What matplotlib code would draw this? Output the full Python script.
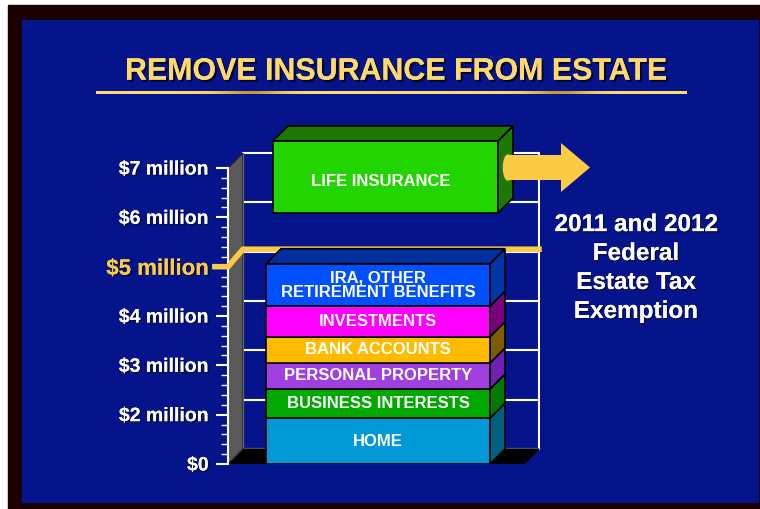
import numpy as np
import matplotlib
matplotlib.use('Agg')
import matplotlib.pyplot as plt
import matplotlib.patheffects as pe
from matplotlib.patches import Polygon, Rectangle, FancyArrow, Ellipse, PathPatch
from matplotlib.textpath import TextPath
from matplotlib.font_manager import FontProperties
from matplotlib.transforms import Affine2D

#! data
tick_values = [0, 1, 2, 3, 4, 5, 6]
tick_labels = ['$0', '$2 million', '$3 million', '$4 million', '$5 million', '$6 million', '$7 million']
exempt_tick = 4   # "$5 million"

seg_labels = ['HOME', 'BUSINESS INTERESTS', 'PERSONAL PROPERTY', 'BANK ACCOUNTS',
              'INVESTMENTS', 'IRA, OTHER\nRETIREMENT BENEFITS']
seg_values = [0.93, 0.59, 0.53, 0.53, 0.62, 0.86]
seg_front = ['#0099D6', '#00A800', '#A040E0', '#FFBB00', '#FF00FF', '#0050FF']
seg_side = ['#006080', '#007A00', '#7020B0', '#7F5C00', '#7A0080', '#0038A8']
seg_top = '#0030A0'

ins_label = 'LIFE INSURANCE'
ins_bottom = 5.09
ins_value = 1.46

title = 'REMOVE INSURANCE FROM ESTATE'
side_text = '2011 and 2012\nFederal\nEstate Tax\nExemption'

#! colours / layout
BG = '#06148C'
BORDER = '#1C0000'
YEL = '#FCCB46'
W, H = 760, 509
PXU = 49.33            # pixels per axis unit
AX_L, AX_R, AX_B = 228, 540, 464
YMAX = 7.0
DEPTH = 15             # 3d depth in px

fig = plt.figure(figsize=(W / 100, H / 100), dpi=100)
fig.patch.set_facecolor('white')

# frame: dark border and blue panel (pixel coords)
frame = fig.add_axes([0, 0, 1, 1])
frame.axis('off')
frame.add_patch(Rectangle((8, 5), W - 8, H - 5, color=BORDER))
frame.add_patch(Rectangle((22, 20), W - 24, 482, color=BG))

shadow = [pe.withSimplePatchShadow(offset=(1.5, -1.5), shadow_rgbFace='black', alpha=0.7), pe.Normal()]
soft = [pe.withSimplePatchShadow(offset=(1, -1), shadow_rgbFace='black', alpha=0.5), pe.Normal()]

# title, squeezed to look like a narrow face
tp = TextPath((0, 0), title, size=30, prop=FontProperties(family='Liberation Sans', weight='bold'))
bb = tp.get_extents()
sx = (666 - 127) / bb.width
sy = 22 / bb.height
tr = Affine2D().translate(-bb.x0, -bb.y0).scale(sx, -sy).translate(127, 80)
frame.add_patch(PathPatch(tr.transform_path(tp), facecolor='#FFD96A', edgecolor='none',
                          path_effects=shadow))

# gradient underline
xs = np.linspace(96, 687, 300)
dark = np.exp(-((xs - 250) / 30) ** 2) + np.exp(-((xs - 560) / 30) ** 2)
light = np.array([1.0, 0.86, 0.45])
brown = np.array([0.62, 0.42, 0.08])
grad = light[None, :] * (1 - 0.6 * dark[:, None]) + brown[None, :] * 0.6 * dark[:, None]
frame.imshow(grad[None, :, :], extent=(96, 687, 94.3, 92), aspect='auto',
             interpolation='bilinear', zorder=3)
frame.set_xlim(0, W)
frame.set_ylim(H, 0)

frame.text(636, 268, side_text, ha='center', va='center', color='white', fontsize=17.5,
           fontweight='bold', family='Liberation Sans', linespacing=1.33, path_effects=soft)

# chart axes
ax_h = YMAX * PXU
ax = fig.add_axes([AX_L / W, (H - AX_B) / H, (AX_R - AX_L) / W, ax_h / H])
ax.set_xlim(0, 1)
ax.set_ylim(0, YMAX)
ax.patch.set_alpha(0)
ddx = DEPTH / (AX_R - AX_L)
ddy = DEPTH / PXU
xr = (539 - AX_L) / (AX_R - AX_L)

for s in ['top', 'right', 'bottom']:
    ax.spines[s].set_visible(False)
ax.spines['left'].set_color('white')
ax.spines['left'].set_linewidth(1.5)
ax.spines['left'].set_bounds(tick_values[0], tick_values[-1])
ax.set_xticks([])
ax.set_yticks(tick_values)
ax.set_yticks(np.arange(tick_values[0], tick_values[-1] + 0.01, 0.2), minor=True)
ax.set_yticklabels(tick_labels)
ax.tick_params(axis='y', which='major', length=9, width=1.5, color='white', direction='out', pad=5)
ax.tick_params(axis='y', which='minor', length=5, width=1, color='white', direction='out')
for i, lab in enumerate(ax.get_yticklabels()):
    lab.set_fontweight('bold')
    lab.set_family('Liberation Sans')
    if i == exempt_tick:
        lab.set_color(YEL)
        lab.set_fontsize(16)
    else:
        lab.set_color('white')
        lab.set_fontsize(14)
    lab.set_path_effects(soft)

# back plane with grid
for v in tick_values:
    ax.plot([ddx, xr], [v + ddy, v + ddy], color='white', lw=1.5, zorder=1)
ax.plot([xr, xr], [ddy, tick_values[-1] + ddy], color='white', lw=1.5, zorder=1)
ax.plot([ddx, ddx], [ddy, tick_values[-1] + ddy], color='white', lw=1.5, zorder=1)
# floor and side wall
ax.add_patch(Polygon([(0, 0), (ddx, ddy), (xr, ddy), (xr - ddx, 0)], closed=True,
                     facecolor='black', edgecolor='black', zorder=2))
ax.add_patch(Polygon([(0, 0), (0, tick_values[-1]), (ddx, tick_values[-1] + ddy), (ddx, ddy)],
                     closed=True, facecolor='#5A5A5A', edgecolor='#222222', lw=1, zorder=2))

# exemption line
ex = tick_values[exempt_tick]
ax.plot([-0.042, 0, ddx, xr], [ex, ex, ex + ddy + 0.05, ex + ddy + 0.05], color=YEL, lw=4,
        solid_joinstyle='miter', clip_on=False, zorder=3)


def box3d(x0, w, bottoms, heights, fronts, sides, top):
    bars = ax.bar(x0, heights, width=w, bottom=bottoms, align='edge', color=fronts,
                  edgecolor='black', lw=1.2, zorder=5)
    x1 = x0 + w
    for b, h, sc in zip(bottoms, heights, sides):
        ax.add_patch(Polygon([(x1, b), (x1 + ddx, b + ddy), (x1 + ddx, b + h + ddy), (x1, b + h)],
                             closed=True, facecolor=sc, edgecolor='black', lw=1.2, zorder=4))
    yt = bottoms[-1] + heights[-1]
    ax.add_patch(Polygon([(x0, yt), (x0 + ddx, yt + ddy), (x1 + ddx, yt + ddy), (x1, yt)],
                         closed=True, facecolor=top, edgecolor='black', lw=1.2, zorder=4))
    return bars


# stacked estate bar
bx0 = (266 - AX_L) / (AX_R - AX_L)
bw = (490 - 266) / (AX_R - AX_L)
bottoms = np.concatenate([[0], np.cumsum(seg_values)[:-1]])
box3d(bx0, bw, bottoms, seg_values, seg_front, seg_side, seg_top)
for b, v, lab in zip(bottoms, seg_values, seg_labels):
    ax.text(bx0 + bw / 2, b + v / 2, lab, ha='center', va='center', color='white', fontsize=12,
            fontweight='bold', family='Liberation Sans', linespacing=0.95, zorder=6)

# life insurance box
ix0 = (273 - AX_L) / (AX_R - AX_L)
iw = (498 - 273) / (AX_R - AX_L)
box3d(ix0, iw, [ins_bottom], [ins_value], ['#22D400'], ['#1C7A00'], '#1E7800')
ax.text(ix0 + iw / 2 - 0.015, ins_bottom + ins_value * 0.43, ins_label, ha='center', va='center',
        color='white', fontsize=12, fontweight='bold', family='Liberation Sans', zorder=6)

# arrow out of the estate
ay = (AX_B - 167.5) / PXU
a0 = (505 - AX_L) / (AX_R - AX_L)
a1 = (590 - AX_L) / (AX_R - AX_L)
ax.add_patch(Ellipse((a0 + 0.01, ay), 0.03, 25 / PXU, color=YEL, zorder=7, clip_on=False))
ax.add_patch(FancyArrow(a0 + 0.01, ay, a1 - a0 - 0.01, 0, width=25 / PXU, head_width=49 / PXU,
                        head_length=29 / (AX_R - AX_L), length_includes_head=True,
                        color=YEL, lw=0, zorder=7, clip_on=False))

fig.savefig('out.png', dpi=100, facecolor=fig.get_facecolor())
